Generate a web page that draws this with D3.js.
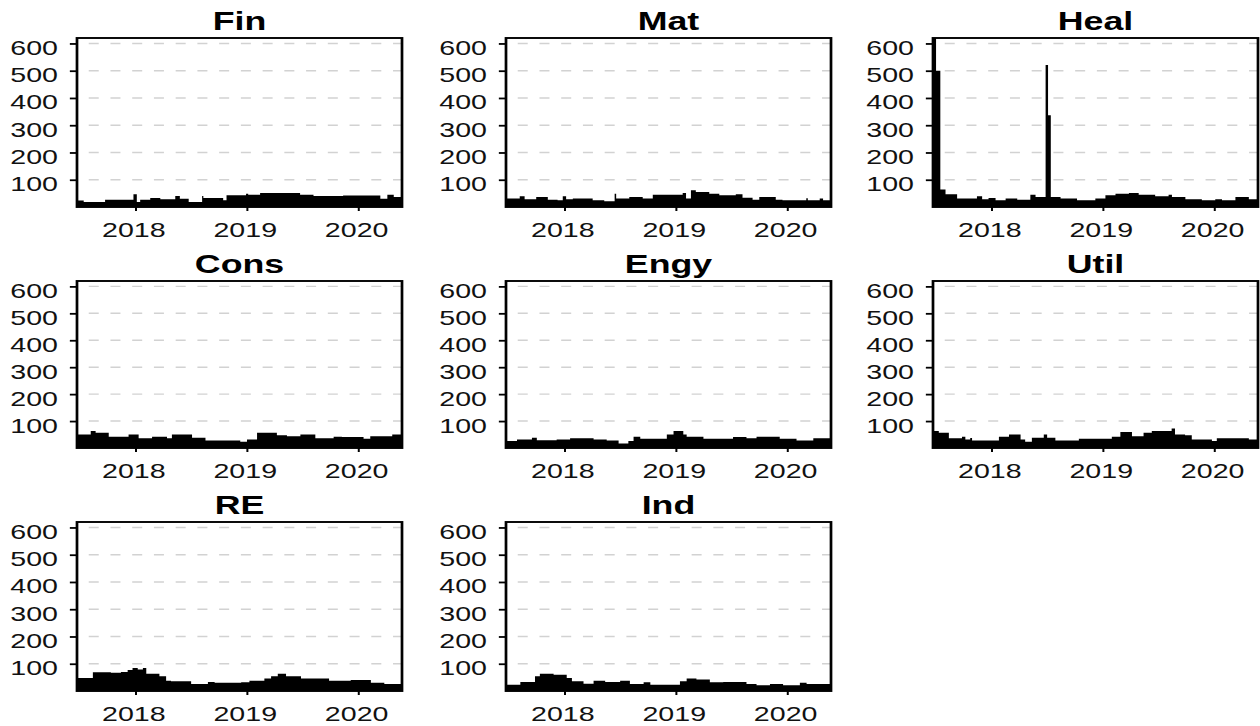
<!DOCTYPE html>
<html>
<head>
<meta charset="utf-8">
<script src="https://cdn.jsdelivr.net/npm/d3@7"></script>
<style>
  html, body { margin: 0; padding: 0; background: #fff; }
  svg { display: block; }
</style>
</head>
<body>
<div id="chart"></div>
<script>
// Panel order and labels
const sectors = ["Fin", "Mat", "Heal", "Cons", "Engy", "Util", "RE", "Ind"];
const yTicks = [100, 200, 300, 400, 500, 600];
const yearTicks = ["2018-01-01", "2019-01-01", "2020-01-01"];
const dateRange = ["2017-06-24", "2020-05-24"];
const yMax = 620;

// Each series is a step function: [date the level starts, level]
const fin = [
  ["2017-06-24", 24], ["2017-07-16", 18], ["2017-09-24", 27], ["2017-12-26", 47], ["2018-01-06", 18],
  ["2018-01-17", 27], ["2018-02-19", 33], ["2018-03-24", 28], ["2018-05-12", 40], ["2018-05-27", 30],
  ["2018-06-25", 18], ["2018-08-08", 40], ["2018-08-12", 33], ["2018-10-16", 25], ["2018-10-27", 43],
  ["2018-12-30", 49], ["2019-01-06", 45], ["2019-02-14", 51], ["2019-06-25", 45], ["2019-08-08", 40],
  ["2019-11-13", 42], ["2020-03-14", 30], ["2020-04-06", 45], ["2020-04-27", 37]
];
const mat = [
  ["2017-06-24", 31], ["2017-08-08", 39], ["2017-08-24", 28], ["2017-10-01", 37], ["2017-11-08", 27],
  ["2017-12-10", 25], ["2017-12-27", 39], ["2018-01-07", 28], ["2018-01-29", 31], ["2018-04-04", 25],
  ["2018-05-12", 21], ["2018-06-15", 49], ["2018-06-20", 31], ["2018-08-02", 37], ["2018-09-15", 31],
  ["2018-10-18", 45], ["2019-01-24", 51], ["2019-02-04", 31], ["2019-02-20", 61], ["2019-03-08", 55],
  ["2019-04-21", 49], ["2019-05-24", 43], ["2019-07-17", 47], ["2019-08-08", 34], ["2019-09-10", 27],
  ["2019-10-02", 37], ["2019-11-25", 27], ["2019-12-17", 25], ["2020-03-04", 32], ["2020-03-09", 25],
  ["2020-04-17", 31], ["2020-04-28", 25]
];
const heal = [
  ["2017-06-24", 640], ["2017-07-04", 500], ["2017-07-18", 64], ["2017-08-04", 47], ["2017-09-11", 31],
  ["2017-11-15", 39], ["2017-12-02", 28], ["2017-12-23", 33], ["2018-01-15", 25], ["2018-02-17", 31],
  ["2018-03-27", 27], ["2018-05-09", 45], ["2018-05-26", 37], ["2018-06-28", 521], ["2018-07-06", 337],
  ["2018-07-15", 37], ["2018-08-16", 31], ["2018-10-09", 25], ["2018-12-08", 31], ["2019-01-10", 43],
  ["2019-02-12", 49], ["2019-03-28", 51], ["2019-04-29", 45], ["2019-06-22", 39], ["2019-08-05", 45],
  ["2019-08-16", 37], ["2019-09-29", 28], ["2019-11-22", 25], ["2020-01-05", 28], ["2020-01-27", 25],
  ["2020-03-11", 37], ["2020-04-24", 28]
];
const cons = [
  ["2017-06-24", 50], ["2017-08-08", 63], ["2017-08-24", 57], ["2017-10-06", 42], ["2017-12-10", 50],
  ["2018-01-12", 36], ["2018-02-25", 42], ["2018-04-15", 36], ["2018-05-01", 50], ["2018-07-06", 38],
  ["2018-08-19", 28], ["2018-12-11", 23], ["2019-01-02", 32], ["2019-02-04", 57], ["2019-04-10", 47],
  ["2019-05-13", 44], ["2019-06-26", 50], ["2019-08-14", 36], ["2019-10-13", 42], ["2019-11-09", 41],
  ["2020-01-19", 34], ["2020-02-10", 44], ["2020-04-22", 50]
];
const engy = [
  ["2017-06-24", 26], ["2017-07-30", 32], ["2017-09-17", 38], ["2017-10-03", 29], ["2017-12-07", 32],
  ["2018-01-20", 36], ["2018-04-07", 32], ["2018-05-20", 28], ["2018-06-28", 17], ["2018-07-30", 26],
  ["2018-08-16", 42], ["2018-09-07", 34], ["2018-12-03", 50], ["2018-12-25", 63], ["2019-01-26", 50],
  ["2019-02-06", 42], ["2019-04-02", 34], ["2019-07-08", 41], ["2019-08-21", 36], ["2019-09-23", 42],
  ["2019-12-08", 34], ["2020-02-01", 28], ["2020-03-27", 36]
];
const util = [
  ["2017-06-24", 63], ["2017-07-13", 57], ["2017-08-15", 36], ["2017-09-27", 42], ["2017-10-08", 32],
  ["2017-10-24", 37], ["2017-10-30", 28], ["2018-01-26", 42], ["2018-02-28", 50], ["2018-04-07", 32],
  ["2018-04-22", 23], ["2018-05-14", 38], ["2018-06-22", 50], ["2018-07-03", 38], ["2018-07-30", 28],
  ["2018-10-15", 34], ["2019-01-31", 42], ["2019-02-28", 59], ["2019-04-07", 44], ["2019-05-15", 57],
  ["2019-06-11", 63], ["2019-08-15", 72], ["2019-08-26", 50], ["2019-09-28", 47], ["2019-10-20", 32],
  ["2019-12-25", 26], ["2020-01-10", 36], ["2020-04-24", 32]
];
const re = [
  ["2017-06-24", 48], ["2017-08-15", 69], ["2017-10-13", 67], ["2017-11-15", 70], ["2017-12-07", 77],
  ["2017-12-23", 84], ["2018-01-09", 79], ["2018-01-26", 84], ["2018-02-06", 63], ["2018-03-21", 54],
  ["2018-04-12", 38], ["2018-04-28", 36], ["2018-07-03", 26], ["2018-08-27", 33], ["2018-09-18", 30],
  ["2018-12-14", 32], ["2019-01-10", 38], ["2019-02-28", 46], ["2019-03-22", 54], ["2019-04-13", 63],
  ["2019-05-10", 54], ["2019-06-28", 46], ["2019-09-28", 38], ["2019-12-08", 40], ["2020-02-12", 30],
  ["2020-03-27", 26], ["2020-05-21", 32]
];
const ind = [
  ["2017-06-24", 23], ["2017-08-10", 33], ["2017-09-27", 54], ["2017-10-13", 63], ["2017-11-27", 60],
  ["2018-01-09", 48], ["2018-01-26", 36], ["2018-03-05", 27], ["2018-04-07", 38], ["2018-05-15", 33],
  ["2018-07-03", 38], ["2018-08-04", 26], ["2018-09-18", 32], ["2018-10-10", 23], ["2019-01-15", 36],
  ["2019-02-06", 46], ["2019-03-10", 42], ["2019-04-23", 32], ["2019-06-06", 33], ["2019-08-21", 26],
  ["2019-09-23", 21], ["2019-11-06", 26], ["2019-12-19", 21], ["2020-02-12", 30], ["2020-03-05", 26]
];
const seriesList = [fin, mat, heal, cons, engy, util, re, ind];

// ---- layout (page pixels) ----
const W = 1260, H = 726;
const S = 1.43;                       // horizontal stretch of the whole drawing
const colLeft = [77, 506, 933];
const panelW = 325;
const rowTop = [38, 281, 522];
const rowBottom = [207, 448, 691];
const sx = v => v / S;               // page x -> drawing units

const FONT = "'Liberation Sans', Arial, Helvetica, sans-serif";
const parse = d3.utcParse("%Y-%m-%d");
const domain = dateRange.map(parse);

const svg = d3.select("#chart").append("svg")
  .attr("width", W).attr("height", H)
  .attr("viewBox", `0 0 ${W / S} ${H}`)
  .attr("preserveAspectRatio", "none");

svg.append("rect").attr("width", W / S).attr("height", H).attr("fill", "#fff");

const defs = svg.append("defs");

sectors.forEach((name, i) => {
  const col = i % 3, row = Math.floor(i / 3);
  const left = sx(colLeft[col]), right = sx(colLeft[col] + panelW);
  const top = rowTop[row], bottom = rowBottom[row];

  const x = d3.scaleUtc().domain(domain).range([left, right]);
  const y = d3.scaleLinear().domain([0, yMax]).range([bottom, top]);

  const g = svg.append("g").attr("class", "panel");

  defs.append("clipPath").attr("id", `clip-${i}`)
    .append("rect").attr("x", left).attr("y", top)
    .attr("width", right - left).attr("height", bottom - top);

  // dashed horizontal grid
  g.append("g").selectAll("line").data(yTicks).join("line")
    .attr("x1", left).attr("x2", right)
    .attr("y1", d => y(d)).attr("y2", d => y(d))
    .attr("stroke", "#d2d2d2").attr("stroke-width", 1.4)
    .attr("stroke-dasharray", "7,8.2").attr("stroke-dashoffset", 7);

  // step series filled down to zero
  const pts = seriesList[i].map(([d, v]) => ({ date: parse(d), v }));
  pts.push({ date: domain[1], v: pts[pts.length - 1].v });
  const area = d3.area()
    .x(d => x(d.date)).y0(y(0)).y1(d => y(d.v))
    .curve(d3.curveStepAfter);
  g.append("path").datum(pts)
    .attr("clip-path", `url(#clip-${i})`)
    .attr("d", area).attr("fill", "#000");

  // frame
  g.append("rect").attr("x", left).attr("y", top)
    .attr("width", right - left).attr("height", bottom - top)
    .attr("fill", "none").attr("stroke", "#000").attr("stroke-width", 1.9);

  // y axis
  const ya = g.append("g").attr("transform", `translate(${left},0)`)
    .call(d3.axisLeft(y).tickValues(yTicks).tickSize(5).tickPadding(8.3).tickFormat(d3.format("d")));
  ya.select(".domain").remove();
  ya.selectAll(".tick line").attr("stroke", "#000").attr("stroke-width", 1.8);
  ya.selectAll(".tick text").attr("dy", "0.55em")
    .attr("font-family", FONT).attr("font-size", 20).attr("fill", "#111");

  // x axis
  const xa = g.append("g").attr("transform", `translate(0,${bottom})`)
    .call(d3.axisBottom(x).tickValues(yearTicks.map(parse)).tickSize(4)
      .tickFormat(d3.utcFormat("%Y")));
  xa.select(".domain").remove();
  xa.selectAll(".tick line").attr("stroke", "#000").attr("stroke-width", 1.4);
  xa.selectAll(".tick text").attr("y", 30).attr("dy", 0).attr("dx", -1.5)
    .attr("font-family", FONT).attr("font-size", 20).attr("fill", "#111");

  // panel title
  g.append("text")
    .attr("x", (left + right) / 2).attr("y", top - 8)
    .attr("text-anchor", "middle")
    .attr("font-family", FONT).attr("font-size", 25).attr("font-weight", "bold")
    .attr("fill", "#000")
    .text(name);
});
</script>
</body>
</html>
